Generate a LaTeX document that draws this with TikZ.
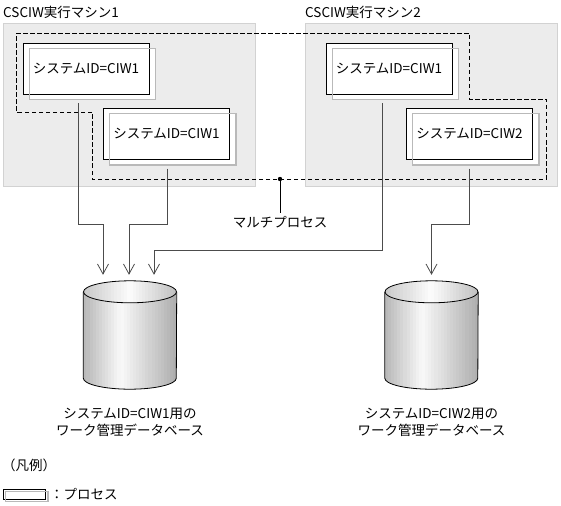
\documentclass[tikz,border=0pt]{standalone}
\usepackage{fontspec}
\setmainfont{Noto Sans CJK JP}
\usetikzlibrary{arrows.meta,positioning}

\begin{document}
\begin{tikzpicture}[x=1pt, y=-1pt, font=\fontsize{13.5}{17}\selectfont]
  \tikzset{machine/.style={rectangle, draw=gray!35, fill=gray!15, minimum width=252pt, minimum height=163pt},
           proc/.style={rectangle, draw, line width=0.9pt, fill=white, minimum width=126pt, minimum height=51pt, inner sep=0pt},
           procshadow/.style={rectangle, draw=gray!55, fill=white, minimum width=126pt, minimum height=51pt, inner sep=0pt},
           db/.style={rectangle, minimum width=93pt, minimum height=108pt, inner sep=0pt},
           dbline/.style={draw, line width=0.8pt},
           arrow/.style={-{Straight Barb[length=10pt, width=11pt]}, draw=black!70, line width=0.8pt, shorten <=4pt, shorten >=6pt},
           multi/.style={draw, dash pattern=on 4.5pt off 2.5pt, line width=0.9pt}}
  \useasboundingbox (0,0) rectangle (561,505);

  % machines
  \node[machine] (m1) at (129,104.5) {};
  \node[machine] (m2) at (431.5,104.5) {};
  \node[anchor=west, inner sep=0pt] (m1lbl) at (3,12) {CSCIW実行マシン1};
  \node[anchor=west, inner sep=0pt] (m2lbl) at (305,12) {CSCIW実行マシン2};

  % multi process
  \draw[multi] (16,33) -- (469,33) -- (469,99) -- (546,99) -- (546,179) -- (92,179) -- (92,112) -- (16,112) -- cycle;
  \coordinate (mpdot) at (280,179);
  \node (mp) at (280,222) {マルチプロセス};
  \draw[line width=0.9pt] (mpdot) -- (mp.north);
  \fill (mpdot) circle (2.2pt);

  % processes
  \node[procshadow] (s1) at (92,73.5) {};
  \node[procshadow] (s2) at (172.5,139) {};
  \node[procshadow] (s3) at (395,73.5) {};
  \node[procshadow] (s4) at (475.5,139) {};
  \node[proc] (p1) at (86,68.5) {システムID=CIW1};
  \node[proc] (p2) at (166.5,134) {システムID=CIW1};
  \node[proc] (p3) at (389,68.5) {システムID=CIW1};
  \node[proc] (p4) at (469.5,134) {システムID=CIW2};

  % databases
  \node[db] (db1) at (130,335) {};
  \node[db] (db2) at (431.5,335) {};
  \foreach \d in {db1,db2} {
    \begin{scope}
      \clip ([yshift=-11pt]\d.north west) -- ([yshift=11pt]\d.south west)
        arc[start angle=180, end angle=360, x radius=46.5pt, y radius=11pt]
        -- ([yshift=-11pt]\d.north east) -- cycle;
      \foreach \k in {0,...,29} {
        \pgfmathsetmacro\pos{\k/29}
        \pgfmathsetmacro\shd{\pos<0.4 ? 55-50*\pos/0.4 : 5+57*(\pos-0.4)/0.6}
        \fill[gray!\shd] ([xshift=\k*3.1pt, yshift=5pt]\d.north west) rectangle ++(3.3,130);
      }
    \end{scope}
    \begin{scope}
      \clip ([yshift=-11pt]\d.north) ellipse[x radius=46.5pt, y radius=11pt];
      \foreach \k in {0,...,29} {
        \pgfmathsetmacro\pos{\k/29}
        \pgfmathsetmacro\shd{\pos<0.5 ? 42-40*\pos/0.5 : 2+46*(\pos-0.5)/0.5}
        \fill[gray!\shd] ([xshift=\k*3.1pt, yshift=5pt]\d.north west) rectangle ++(3.3,30);
      }
    \end{scope}
    \draw[dbline] ([yshift=-11pt]\d.north west) -- ([yshift=11pt]\d.south west)
      arc[start angle=180, end angle=360, x radius=46.5pt, y radius=11pt]
      -- ([yshift=-11pt]\d.north east);
    \draw[dbline] ([yshift=-11pt]\d.north) ellipse[x radius=46.5pt, y radius=11pt];
  }
  \node[align=center, below=15pt of db1] (db1lbl) {システムID=CIW1用の\\ワーク管理データベース};
  \node[align=center, below=15pt of db2] (db2lbl) {システムID=CIW2用の\\ワーク管理データベース};

  % legend
  \node[anchor=west, inner sep=0pt] (legend) at (2,465) {（凡例）};
  \node[procshadow, minimum width=42pt, minimum height=10pt] (legs) at (26.5,496) {};
  \node[proc, minimum width=42pt, minimum height=10pt, line width=0.7pt] (leg) at (24,494) {};
  \node[anchor=west, inner sep=0pt] (leglbl) at (50,494) {：プロセス};

  \foreach \s in {s1,s2,s3,s4,legs}
    \draw[gray!55] (\s.north west) rectangle (\s.south east);

  % arrows
  \draw[arrow] ([xshift=-14pt]s1.south) -- ++(0,125) -| ([xshift=-27pt]db1.north);
  \draw[arrow] ([xshift=-5.5pt]s2.south) -- ++(0,60) -| ([xshift=-1pt]db1.north);
  \draw[arrow] ([xshift=-13pt]s3.south) -- ++(0,151) -| ([xshift=24pt]db1.north);
  \draw[arrow] ([xshift=-6.5pt]s4.south) -- ++(0,60) -| (db2.north);
\end{tikzpicture}
\end{document}
